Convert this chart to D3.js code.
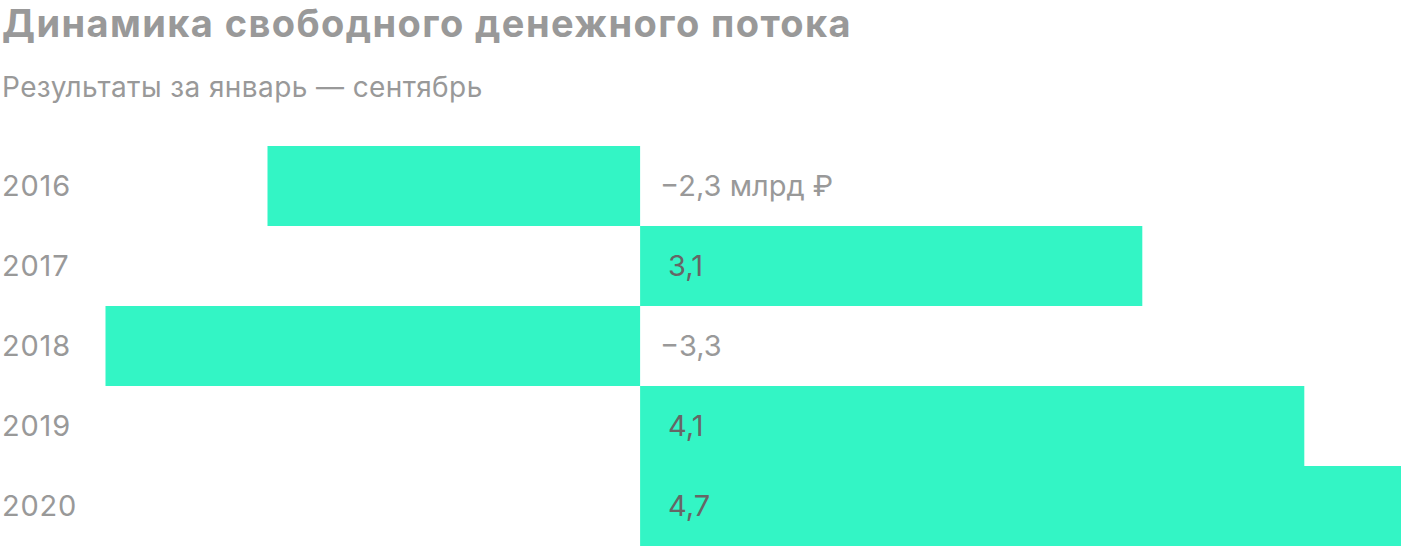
<!DOCTYPE html>
<html><head><meta charset="utf-8">
<script src="https://cdn.jsdelivr.net/npm/d3@7"></script>
<style>
html,body{margin:0;padding:0;background:#fff;}
svg{display:block;font-family:Inter,Roboto,"Noto Sans",sans-serif;}
</style></head>
<body>
<svg id="chart" width="1401" height="548"></svg>
<script>
const title = "Динамика свободного денежного потока";
const subtitle = "Результаты за январь — сентябрь";
const years = ["2016","2017","2018","2019","2020"];
const values = [-2.3, 3.1, -3.3, 4.1, 4.7];
const valueLabels = ["−2,3 млрд ₽","3,1","−3,3","4,1","4,7"];

const svg = d3.select("#chart");

svg.append("text").attr("x",2).attr("y",37)
  .attr("font-size",38).attr("font-weight",700).attr("fill","#999")
  .attr("letter-spacing",1.4)
  .text(title);
svg.append("text").attr("x",2).attr("y",97)
  .attr("font-size",28).attr("fill","#999")
  .attr("letter-spacing",0.4)
  .text(subtitle);

const x = d3.scaleLinear().domain([-3.3, 4.7]).range([105.5, 1401.5]);
const y = d3.scaleBand().domain(years).range([146, 546]).padding(0);

const rows = svg.append("g").selectAll("g").data(years).join("g");

rows.append("rect")
  .attr("x", (d,i) => x(Math.min(0, values[i])))
  .attr("y", d => y(d))
  .attr("width", (d,i) => Math.abs(x(values[i]) - x(0)))
  .attr("height", y.bandwidth())
  .attr("fill", "#33f5c5");

rows.append("text")
  .attr("x", 2)
  .attr("y", d => y(d) + y.bandwidth()/2)
  .attr("dy", "0.36em")
  .attr("font-size", 29).attr("fill", "#999")
  .attr("letter-spacing",0.8)
  .text(d => d);

rows.append("text")
  .attr("x", (d,i) => x(0) + (values[i] < 0 ? 20 : 28))
  .attr("y", d => y(d) + y.bandwidth()/2)
  .attr("dy", "0.36em")
  .attr("font-size", 29)
  .attr("fill", (d,i) => values[i] < 0 ? "#999" : "#666")
  .text((d,i) => valueLabels[i]);
</script>
</body></html>
